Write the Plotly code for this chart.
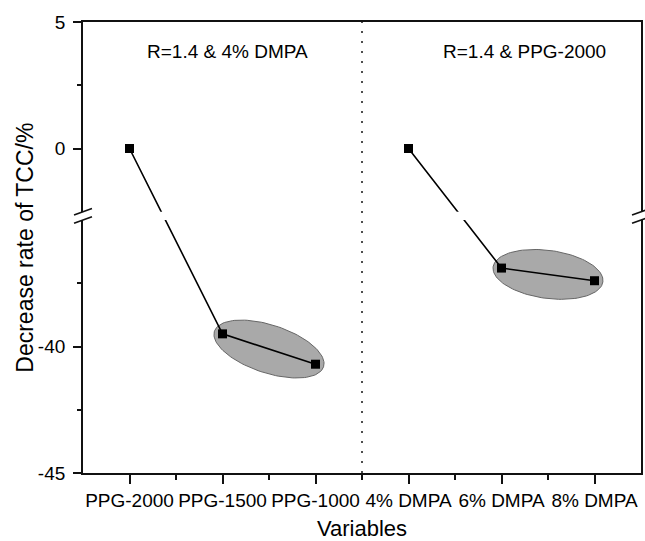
import numpy as np
import plotly.graph_objects as go

# ---------------- data ----------------
categories = ["PPG-2000", "PPG-1500", "PPG-1000", "4% DMPA", "6% DMPA", "8% DMPA"]
left_x = [0, 1, 2]
left_y = [0.0, -39.5, -40.7]
right_x = [3, 4, 5]
right_y = [0.0, -36.9, -37.4]
top_ticks = [5, 0]
top_ticktext = ["5", "0"]
top_minor = [2.5]
bottom_ticks = [-40, -45]
bottom_ticktext = ["-40", "-45"]
bottom_minor = [-37.5, -42.5]
x_minor = [0.5, 1.5, 2.5, 3.5, 4.5]
group_labels = ["R=1.4 & 4% DMPA", "R=1.4 & PPG-2000"]
group_label_x = [1.05, 4.25]
group_label_y = 3.85
divider_x = 2.5

# ---------------- layout geometry ----------------
W, H = 645, 541
ML, MR, MT, MB = 83, 2, 22, 68
PW, PH = W - ML - MR, H - MT - MB
top_range = [-2.5, 5]
bottom_range = [-45, -35]
unit_px = 25.3
top_px = (top_range[1] - top_range[0]) * unit_px
bot_px = (bottom_range[1] - bottom_range[0]) * unit_px
gap_px = PH - top_px - bot_px
bottom_dom = [0, bot_px / PH]
top_dom = [(bot_px + gap_px) / PH, 1]
x_range = [-0.5, 5.5]
kx = PW / (x_range[1] - x_range[0])
# offset between the two panels' scales (bottom value + shift = equivalent top value)
shift = (top_range[0] - bottom_range[1]) - gap_px / unit_px

FONT = "Liberation Sans, Arial, Helvetica, sans-serif"
AXC = "#111111"

fig = go.Figure()

# ellipses around the last two points of each group
def ellipse(xa, ya, xb, yb, pad=8.5, b=24.0, n=120):
    X1, Y1, X2, Y2 = xa * kx, ya * unit_px, xb * kx, yb * unit_px
    cx, cy = (X1 + X2) / 2, (Y1 + Y2) / 2
    th = np.arctan2(Y2 - Y1, X2 - X1)
    a = np.hypot(X2 - X1, Y2 - Y1) / 2 + pad
    t = np.linspace(0, 2 * np.pi, n)
    ex = cx + a * np.cos(t) * np.cos(th) - b * np.sin(t) * np.sin(th)
    ey = cy + a * np.cos(t) * np.sin(th) + b * np.sin(t) * np.cos(th)
    return ex / kx, ey / unit_px

for gx, gy in [(left_x, left_y), (right_x, right_y)]:
    ex, ey = ellipse(gx[1], gy[1], gx[2], gy[2])
    fig.add_trace(go.Scatter(x=ex, y=ey, mode="lines", fill="toself",
                             fillcolor="#a9a9a9",
                             line=dict(color="#666666", width=1),
                             hoverinfo="skip", showlegend=False,
                             xaxis="x", yaxis="y"))

def to_top(v):
    return v if v >= top_range[0] else v + shift

def to_bottom(v):
    return v if v <= bottom_range[1] else v - shift

# series drawn in both panels (each panel clips to its own range)
for xa, ya, conv in [("x", "y", to_bottom), ("x2", "y2", to_top)]:
    for gx, gy in [(left_x, left_y), (right_x, right_y)]:
        fig.add_trace(go.Scatter(x=gx, y=[conv(v) for v in gy], mode="lines+markers",
                                 line=dict(color="black", width=1.6),
                                 marker=dict(symbol="square", size=9, color="black"),
                                 showlegend=False, xaxis=xa, yaxis=ya))

def pyp(py):  # pixel y -> paper y
    return 1 - (py - MT) / PH

def pxp(px):  # pixel x -> paper x
    return (px - ML) / PW

shapes = []
# dotted divider
shapes.append(dict(type="line", xref="x", yref="paper", x0=divider_x, x1=divider_x,
                   y0=0, y1=1, line=dict(color="#222222", width=1.6, dash="2px,8px")))
# break marks
edges_px = [MT + top_px, MT + top_px + gap_px]
for ax_px in [ML, ML + PW]:
    for ey in edges_px:
        shapes.append(dict(type="line", xref="paper", yref="paper",
                           x0=pxp(ax_px - 9), x1=pxp(ax_px + 9),
                           y0=pyp(ey + 3.2), y1=pyp(ey - 3.2),
                           line=dict(color=AXC, width=1.6)))

annotations = []
for lab, lx in zip(group_labels, group_label_x):
    annotations.append(dict(text=lab, x=lx, y=group_label_y, xref="x2", yref="y2",
                            showarrow=False, font=dict(size=19, color="black", family=FONT)))
annotations.append(dict(text="Decrease rate of TCC/%", x=pxp(24), y=0.5, xref="paper", yref="paper",
                        textangle=-90, showarrow=False, xanchor="center", yanchor="middle",
                        font=dict(size=23, color="black", family=FONT)))
annotations.append(dict(text="Variables", x=0.5, y=pyp(528), xref="paper", yref="paper",
                        showarrow=False, xanchor="center", yanchor="middle",
                        font=dict(size=22, color="black", family=FONT)))

tickfont = dict(size=19, color="black", family=FONT)

fig.update_layout(
    width=W, height=H,
    margin=dict(l=ML, r=MR, t=MT, b=MB, pad=0),
    paper_bgcolor="white", plot_bgcolor="white",
    font=dict(family=FONT, color="black"),
    shapes=shapes, annotations=annotations,
    xaxis=dict(range=x_range, domain=[0, 1], anchor="y",
               tickvals=list(range(len(categories))), ticktext=categories,
               ticks="outside", ticklen=9, tickwidth=1.6, tickcolor=AXC,
               showline=True, linecolor=AXC, linewidth=1.8, mirror=False,
               showgrid=False, zeroline=False, tickfont=tickfont,
               minor=dict(tickvals=x_minor, ticks="outside", ticklen=5,
                          tickwidth=1.6, tickcolor=AXC, showgrid=False)),
    yaxis=dict(range=bottom_range, domain=bottom_dom, anchor="x",
               tickvals=bottom_ticks, ticktext=bottom_ticktext,
               ticks="outside", ticklen=8, tickwidth=1.6, ticklabelstandoff=4,
               tickcolor=AXC, showline=True, linecolor=AXC, linewidth=1.8,
               mirror=True, showgrid=False, zeroline=False, tickfont=tickfont,
               minor=dict(tickvals=bottom_minor, ticks="outside", ticklen=4,
                          tickwidth=1.6, tickcolor=AXC, showgrid=False)),
    xaxis2=dict(range=x_range, domain=[0, 1], anchor="y2", side="top",
                showticklabels=False, ticks="", showline=True, linecolor=AXC,
                linewidth=1.8, showgrid=False, zeroline=False, matches="x"),
    yaxis2=dict(range=top_range, domain=top_dom, anchor="x2",
                tickvals=top_ticks, ticktext=top_ticktext,
                ticks="outside", ticklen=8, tickwidth=1.6, ticklabelstandoff=4,
                tickcolor=AXC, showline=True, linecolor=AXC, linewidth=1.8,
                mirror=True, showgrid=False, zeroline=False, tickfont=tickfont,
                minor=dict(tickvals=top_minor, ticks="outside", ticklen=4,
                           tickwidth=1.6, tickcolor=AXC, showgrid=False)),
)

fig.write_html("out.html", config={"displayModeBar": False},
               post_script="document.body.style.margin='0';")
